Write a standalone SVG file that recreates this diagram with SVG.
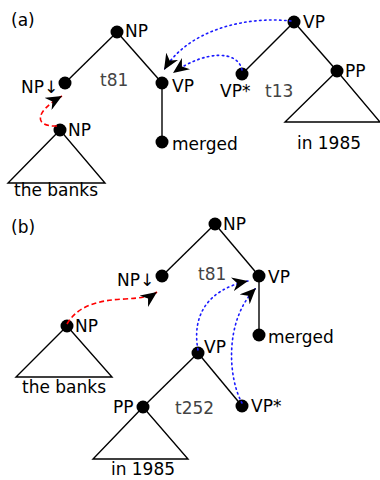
<svg xmlns="http://www.w3.org/2000/svg" width="380" height="480" viewBox="0 0 380 480">
<defs>
<style>
text{font-family:"DejaVu Sans","Liberation Sans",sans-serif;font-size:17px;fill:#000}
.g{fill:#444}
.e{stroke:#000;stroke-width:1.4;fill:none}
.n{fill:#000}
.tri{stroke:#000;stroke-width:1.4;fill:#fff}
.blue{stroke:#1a1aff;stroke-width:1.6;fill:none;stroke-dasharray:1.5 3.5;stroke-linecap:round}
.red{stroke:#f00;stroke-width:1.6;fill:none;stroke-dasharray:5 3}
</style>
<marker id="ah" markerUnits="userSpaceOnUse" markerWidth="17" markerHeight="14" refX="16" refY="7" orient="auto" viewBox="0 0 17 14">
<path d="M0,0 L16,7 L0,14 L5,7 z" fill="#000"/>
</marker>
</defs>
<rect width="380" height="480" fill="#fff"/>
<text x="11" y="26">(a)</text>
<text x="11" y="233">(b)</text>
<g id="edges">
<line class="e" x1="117" y1="32" x2="65" y2="83"/>
<line class="e" x1="117" y1="32" x2="162" y2="83"/>
<line class="e" x1="162" y1="83" x2="162" y2="142"/>
<line class="e" x1="294" y1="22" x2="242" y2="74"/>
<line class="e" x1="294" y1="22" x2="337" y2="71"/>
<line class="e" x1="215" y1="224" x2="162" y2="276"/>
<line class="e" x1="215" y1="224" x2="259" y2="276"/>
<line class="e" x1="259" y1="276" x2="259" y2="335"/>
<line class="e" x1="198" y1="353" x2="143" y2="407"/>
<line class="e" x1="198" y1="353" x2="242" y2="406"/>
</g>
<g id="a-banks-tri"><polygon class="tri" points="60,130 8,183 105,183"/><text x="56" y="196" text-anchor="middle">the banks</text></g>
<g id="a-in1985-tri"><polygon class="tri" points="337,71 285,122 380,122"/><text x="329" y="149" text-anchor="middle">in 1985</text></g>
<g id="b-banks-tri"><polygon class="tri" points="67,326 16,377 112,377"/><text x="64" y="393" text-anchor="middle">the banks</text></g>
<g id="b-in1985-tri"><polygon class="tri" points="143,407 93,459 188,459"/><text x="143" y="475" text-anchor="middle">in 1985</text></g>
<g id="a-np-top"><circle class="n" cx="117" cy="32" r="6.5"/><text x="125" y="37">NP</text></g>
<g id="a-np-foot"><circle class="n" cx="65" cy="83" r="6.5"/><text x="21" y="93">NP↓</text></g>
<g id="a-vp"><circle class="n" cx="162" cy="83" r="6.5"/><text x="172" y="92">VP</text></g>
<g id="a-merged"><circle class="n" cx="162" cy="142" r="6.5"/><text x="172" y="150">merged</text></g>
<g id="a-np-banks"><circle class="n" cx="60" cy="130" r="6.5"/><text x="68" y="136">NP</text></g>
<g id="a-vp-top"><circle class="n" cx="294" cy="22" r="6.5"/><text x="303" y="28">VP</text></g>
<g id="a-vpstar"><circle class="n" cx="242" cy="74" r="6.5"/><text x="220" y="97">VP*</text></g>
<g id="a-pp"><circle class="n" cx="337" cy="71" r="6.5"/><text x="345" y="77">PP</text></g>
<text class="g" x="100" y="86">t81</text>
<text class="g" x="265" y="97">t13</text>
<g id="b-np-top"><circle class="n" cx="215" cy="224" r="6.5"/><text x="223" y="230">NP</text></g>
<g id="b-np-foot"><circle class="n" cx="162" cy="276" r="6.5"/><text x="117" y="286">NP↓</text></g>
<g id="b-vp"><circle class="n" cx="259" cy="276" r="6.5"/><text x="268" y="283">VP</text></g>
<g id="b-merged"><circle class="n" cx="259" cy="335" r="6.5"/><text x="268" y="343">merged</text></g>
<g id="b-np-banks"><circle class="n" cx="67" cy="326" r="6.5"/><text x="75" y="332">NP</text></g>
<g id="b-vp-mid"><circle class="n" cx="198" cy="353" r="6.5"/><text x="204" y="353">VP</text></g>
<g id="b-vpstar"><circle class="n" cx="242" cy="406" r="6.5"/><text x="251" y="412">VP*</text></g>
<g id="b-pp"><circle class="n" cx="143" cy="407" r="6.5"/><text x="113" y="413">PP</text></g>
<text class="g" x="198" y="280">t81</text>
<text class="g" x="175" y="414">t252</text>
<g id="connectors">
<path class="blue" d="M291,21 C245,16 188,30 164,70" marker-end="url(#ah)"/>
<path class="blue" d="M242,70 C238,50 205,50 173,73" marker-end="url(#ah)"/>
<path class="red" d="M57,126 C34,127 34,112 62,96" marker-end="url(#ah)"/>
<path class="red" d="M67,324 C78,305 100,300 125,299 C140,298 150,297 157,292" marker-end="url(#ah)"/>
<path class="blue" d="M198,350 C192,318 205,290 248,281" marker-end="url(#ah)"/>
<path class="blue" d="M242,403 C228,378 224,320 256,288" marker-end="url(#ah)"/>
</g>
</svg>
